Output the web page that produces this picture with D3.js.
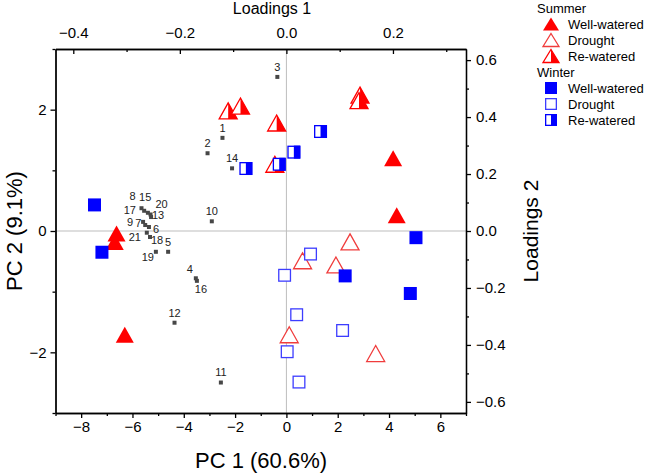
<!DOCTYPE html>
<html><head><meta charset="utf-8">
<script src="https://cdn.jsdelivr.net/npm/d3@7"></script>
<style>body{margin:0;background:#fff}svg{display:block}text{font-family:Arial,"Liberation Sans",sans-serif}</style>
</head><body><svg id="c" width="645" height="474"></svg>
<script>
// PC scores (PC1, PC2)
const summerWellPC1 = [-6.30, -6.62, -6.69, 4.16, 4.30];
const summerWellPC2 = [-1.71, -0.04, -0.18, 1.20, 0.26];
const summerDroughtPC1 = [2.48, 0.63, 1.93, 0.11, 3.48];
const summerDroughtPC2 = [-0.18, -0.49, -0.56, -1.71, -2.02];
const summerRePC1 = [-2.27, -1.79, -0.38, 2.87, 2.83, -0.45];
const summerRePC2 = [1.98, 2.06, 1.78, 2.24, 2.15, 1.10];
const winterWellPC1 = [-7.48, -7.19, 5.05, 2.29, 4.83];
const winterWellPC2 = [0.43, -0.35, -0.11, -0.74, -1.03];
const winterDroughtPC1 = [0.94, -0.07, 0.40, 2.19, 0.03, 0.49];
const winterDroughtPC2 = [-0.38, -0.73, -1.38, -1.64, -1.99, -2.49];
const winterRePC1 = [-1.58, -0.28, 0.29, 1.33];
const winterRePC2 = [1.03, 1.10, 1.30, 1.64];
// Loadings
const loadingIds = ["1","2","3","4","5","6","7","8","9","10","11","12","13","14","15","16","17","18","19","20","21"];
const loading1 = [-0.120,-0.148,-0.017,-0.170,-0.222,-0.258,-0.265,-0.272,-0.269,-0.140,-0.123,-0.210,-0.254,-0.102,-0.267,-0.168,-0.260,-0.256,-0.245,-0.255,-0.262];
const loading2 = [0.327,0.273,0.541,-0.166,-0.073,0.014,0.021,0.080,0.032,0.034,-0.532,-0.322,0.049,0.220,0.071,-0.175,0.064,-0.021,-0.073,0.058,-0.006];
// label offsets (px) for loading labels
const labelDX = [0,0,0,-6,0,7,-7,-9,-13,0,0,0,7,0,1,4,-18,7,-8,11,-12];
const labelDY = [-10,-10,-10,-9,-10,2,-2,-12,0,-10,-10,-10,-2,-10,-14,8,-3,3,5,-10,4];
// ticks
const pc1Major = [-8,-6,-4,-2,0,2,4,6];
const pc1Minor = [-9,-7,-5,-3,-1,1,3,5,7];
const pc2Major = [-2,0,2];
const pc2Minor = [-3,-1,1,3];
const l1Major = [-0.4,-0.2,0.0,0.2];
const l1Minor = [-0.3,-0.1,0.1,0.3];
const l2Major = [-0.6,-0.4,-0.2,0.0,0.2,0.4,0.6];
const l2Minor = [-0.5,-0.3,-0.1,0.1,0.3,0.5];

const L=55.5,R=466,T=49,B=413;
const svg=d3.select("#c");
const x=d3.scaleLinear().domain([-9,7]).range([L,R]);
const y=d3.scaleLinear().domain([-3,3]).range([B,T]);
const lx=d3.scaleLinear().domain([-0.4334,0.3371]).range([L,R]);
const ly=d3.scaleLinear().domain([-0.639,0.639]).range([B,T]);

// zero grid lines
svg.append("line").attr("x1",x(0)).attr("x2",x(0)).attr("y1",T).attr("y2",B).attr("stroke","#bdbdbd").attr("stroke-width",1);
svg.append("line").attr("x1",L).attr("x2",R).attr("y1",y(0)).attr("y2",y(0)).attr("stroke","#bdbdbd").attr("stroke-width",1);

function styleAxis(g){g.selectAll("path,line").attr("stroke","#000").attr("stroke-width",1.3);g.selectAll("text").attr("font-size",15).attr("fill","#000").attr("font-family","Arial, 'Liberation Sans', sans-serif");}
const fmt1=d3.format(".1f");
const fmtL=d=>{const s=fmt1(d);return s==="-0.0"?"0.0":s;};
const fmtI=d3.format("d");
// bottom
svg.append("g").attr("transform",`translate(0,${B})`).call(d3.axisBottom(x).tickValues(pc1Minor).tickSize(3).tickFormat("").tickSizeOuter(0)).call(styleAxis);
svg.append("g").attr("transform",`translate(0,${B})`).call(d3.axisBottom(x).tickValues(pc1Major).tickSize(5).tickPadding(3).tickFormat(fmtI).tickSizeOuter(0)).call(styleAxis);
// left
svg.append("g").attr("transform",`translate(${L},0)`).call(d3.axisLeft(y).tickValues(pc2Minor).tickSize(3).tickFormat("").tickSizeOuter(0)).call(styleAxis);
svg.append("g").attr("transform",`translate(${L},0)`).call(d3.axisLeft(y).tickValues(pc2Major).tickSize(5).tickPadding(4).tickFormat(fmtI).tickSizeOuter(0)).call(styleAxis);
// top (inward ticks)
svg.append("g").attr("transform",`translate(0,${T})`).call(d3.axisTop(lx).tickValues(l1Minor).tickSize(-3).tickFormat("").tickSizeOuter(0)).call(styleAxis);
svg.append("g").attr("transform",`translate(0,${T})`).call(d3.axisTop(lx).tickValues(l1Major).tickSize(-5).tickPadding(11).tickFormat(fmtL).tickSizeOuter(0)).call(styleAxis);
// right
svg.append("g").attr("transform",`translate(${R},0)`).call(d3.axisRight(ly).tickValues(l2Minor).tickSize(3).tickFormat("").tickSizeOuter(0)).call(styleAxis);
svg.append("g").attr("transform",`translate(${R},0)`).call(d3.axisRight(ly).tickValues(l2Major).tickSize(5).tickPadding(5).tickFormat(fmtL).tickSizeOuter(0)).call(styleAxis);

// titles
svg.append("text").attr("x",261).attr("y",468).attr("text-anchor","middle").attr("font-size",22).text("PC 1 (60.6%)");
svg.append("text").attr("transform",`translate(22,${(T+B)/2}) rotate(-90)`).attr("text-anchor","middle").attr("font-size",22).text("PC 2 (9.1%)");
svg.append("text").attr("x",272).attr("y",14).attr("text-anchor","middle").attr("font-size",16).text("Loadings 1");
svg.append("text").attr("transform",`translate(538,${(T+B)/2}) rotate(-90)`).attr("text-anchor","middle").attr("font-size",21).text("Loadings 2");

// loadings points
const loadData=loadingIds.map((id,i)=>({id,a:loading1[i],b:loading2[i],dx:labelDX[i],dy:labelDY[i]}));
svg.append("g").selectAll("rect").data(loadData).join("rect")
  .attr("x",d=>lx(d.a)-2).attr("y",d=>ly(d.b)-2).attr("width",4).attr("height",4).attr("fill","#474747");
svg.append("g").selectAll("text").data(loadData).join("text")
  .attr("x",d=>lx(d.a)+d.dx).attr("y",d=>ly(d.b)+d.dy).attr("dy","0.35em").attr("text-anchor","middle")
  .attr("font-size",11).attr("fill","#222").text(d=>d.id);

// marker drawing
const RED="#ff0000",BLUE="#0000ff";
const TW=18,TH=16,SQ=13;
function tri(g,cx,cy,type,w=TW,h=TH){
  const p=`M${cx},${cy-h/2}L${cx+w/2},${cy+h/2}L${cx-w/2},${cy+h/2}Z`;
  if(type==="well"){g.append("path").attr("d",p).attr("fill",RED);}
  else if(type==="drought"){g.append("path").attr("d",p).attr("fill","#fff").attr("stroke","#f03c3c").attr("stroke-width",1.3);}
  else{g.append("path").attr("d",p).attr("fill","#fff");
    g.append("path").attr("d",`M${cx},${cy-h/2}L${cx+w/2},${cy+h/2}L${cx},${cy+h/2}Z`).attr("fill",RED);
    g.append("path").attr("d",p).attr("fill","none").attr("stroke",RED).attr("stroke-width",1.3);}
}
function sq(g,cx,cy,type,s=SQ){
  if(type==="well"){g.append("rect").attr("x",cx-s/2).attr("y",cy-s/2).attr("width",s).attr("height",s).attr("fill",BLUE);}
  else if(type==="drought"){g.append("rect").attr("x",cx-s/2+0.65).attr("y",cy-s/2+0.65).attr("width",s-1.3).attr("height",s-1.3).attr("fill","#fff").attr("stroke","#3d3dff").attr("stroke-width",1.3);}
  else{g.append("rect").attr("x",cx-s/2+0.65).attr("y",cy-s/2+0.65).attr("width",s-1.3).attr("height",s-1.3).attr("fill","#fff");
    g.append("rect").attr("x",cx).attr("y",cy-s/2).attr("width",s/2).attr("height",s).attr("fill",BLUE);
    g.append("rect").attr("x",cx-s/2+0.65).attr("y",cy-s/2+0.65).attr("width",s-1.3).attr("height",s-1.3).attr("fill","none").attr("stroke",BLUE).attr("stroke-width",1.3);}
}
const series=[
  {xs:summerWellPC1,ys:summerWellPC2,shape:"tri",type:"well"},
  {xs:summerDroughtPC1,ys:summerDroughtPC2,shape:"tri",type:"drought"},
  {xs:summerRePC1,ys:summerRePC2,shape:"tri",type:"re"},
  {xs:winterWellPC1,ys:winterWellPC2,shape:"sq",type:"well"},
  {xs:winterDroughtPC1,ys:winterDroughtPC2,shape:"sq",type:"drought"},
  {xs:winterRePC1,ys:winterRePC2,shape:"sq",type:"re"}
];
const mg=svg.append("g");
series.forEach(s=>s.xs.forEach((v,i)=>{
  if(s.shape==="tri")tri(mg,x(v),y(s.ys[i]),s.type); else sq(mg,x(v),y(s.ys[i]),s.type);
}));

// legend
const lg=svg.append("g");
const legendRows=[
  {t:"Summer",head:true,y:8},
  {t:"Well-watered",shape:"tri",type:"well",y:24},
  {t:"Drought",shape:"tri",type:"drought",y:40},
  {t:"Re-watered",shape:"tri",type:"re",y:56},
  {t:"Winter",head:true,y:72},
  {t:"Well-watered",shape:"sq",type:"well",y:88},
  {t:"Drought",shape:"sq",type:"drought",y:104},
  {t:"Re-watered",shape:"sq",type:"re",y:120}
];
legendRows.forEach(r=>{
  if(r.head){lg.append("text").attr("x",537).attr("y",r.y).attr("dy","0.35em").attr("font-size",13).text(r.t);return;}
  if(r.shape==="tri")tri(lg,551,r.y,r.type,16,13); else sq(lg,551,r.y,r.type,12);
  lg.append("text").attr("x",568).attr("y",r.y).attr("dy","0.35em").attr("font-size",13).text(r.t);
});
</script></body></html>
